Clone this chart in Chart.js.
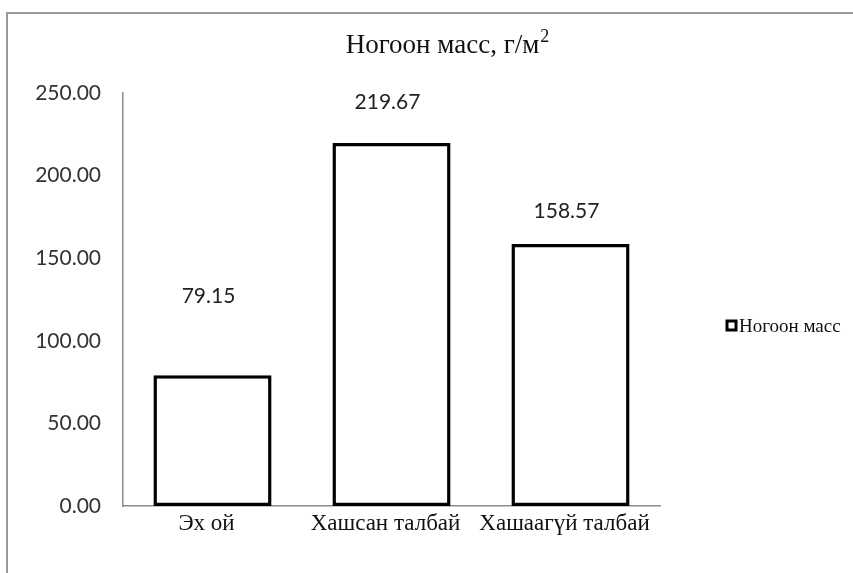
<!DOCTYPE html>
<html><head><meta charset="utf-8">
<script src="https://cdn.jsdelivr.net/npm/chart.js@4/dist/chart.umd.min.js"></script>
<style>
html,body{margin:0;padding:0;background:#fff;}
#wrap{position:absolute;left:0;top:0;width:853px;height:573px;}
#frame{position:absolute;left:6px;top:12px;width:900px;height:600px;border-left:2px solid #9a9a9a;border-top:2px solid #9a9a9a;}
canvas{position:absolute;left:0;top:0;}
</style></head><body>
<div id="wrap"><div id="frame"></div><canvas id="c" width="853" height="573"></canvas></div>
<script>
const categories = ["Эх ой", "Хашсан талбай", "Хашаагүй талбай"];
const values = [79.15, 219.67, 158.57];
const seriesName = "Ногоон масс";
const titleMain = "Ногоон масс, г/м";
const titleSup = "2";
const yTicks = [0, 50, 100, 150, 200, 250];

const labelLift = [79, 41, 33];

const extras = {
  id: 'extras',
  afterDatasetsDraw(chart) {
    const ctx = chart.ctx;
    const meta = chart.getDatasetMeta(0);
    ctx.save();
    ctx.fillStyle = '#222';
    ctx.font = '21px Lato, "Open Sans", sans-serif';
    ctx.textAlign = 'center';
    ctx.textBaseline = 'middle';
    meta.data.forEach((bar, i) => {
      ctx.fillText(values[i].toFixed(2), bar.x - 4, bar.y - labelLift[i]);
    });
    // title
    ctx.font = '27px "Liberation Serif", serif';
    ctx.fillStyle = '#111';
    ctx.textAlign = 'left';
    ctx.textBaseline = 'alphabetic';
    const w1 = ctx.measureText(titleMain).width;
    ctx.font = '18px "Liberation Serif", serif';
    const w2 = ctx.measureText(titleSup).width;
    const x0 = 447 - (w1 + w2) / 2;
    ctx.font = '27px "Liberation Serif", serif';
    ctx.fillText(titleMain, x0, 53);
    ctx.font = '18px "Liberation Serif", serif';
    ctx.fillText(titleSup, x0 + w1 + 1, 42);
    // legend
    ctx.lineWidth = 3;
    ctx.strokeStyle = '#000';
    ctx.fillStyle = '#fff';
    ctx.fillRect(727, 321, 9, 9);
    ctx.strokeRect(727, 321, 9, 9);
    ctx.fillStyle = '#111';
    ctx.font = '19px "Liberation Serif", serif';
    ctx.textAlign = 'left';
    ctx.textBaseline = 'middle';
    ctx.fillText(seriesName, 739, 327);
    ctx.restore();
  }
};

new Chart(document.getElementById('c'), {
  type: 'bar',
  data: {
    labels: categories,
    datasets: [{
      label: seriesName,
      data: values,
      backgroundColor: '#ffffff',
      borderColor: '#000000',
      borderWidth: 3.5,
      borderSkipped: false,
      categoryPercentage: 0.66,
      barPercentage: 1.0
    }]
  },
  options: {
    responsive: false,
    animation: false,
    layout: { padding: { left: 0, top: 93, right: 193, bottom: 0 } },
    plugins: { legend: { display: false }, tooltip: { enabled: false }, title: { display: false } },
    scales: {
      x: {
        grid: { display: false, drawTicks: false },
        border: { display: true, color: '#8c8c8c', width: 1.5 },
        ticks: { color: '#111', font: { family: '"Liberation Serif", serif', size: 23 }, padding: 4, labelOffset: -6 },
        afterFit(s) { s.height = 67; }
      },
      y: {
        min: 0, max: 250,
        afterBuildTicks(s) { s.ticks = yTicks.map(v => ({ value: v })); },
        grid: { display: false, drawTicks: false },
        border: { display: true, color: '#8c8c8c', width: 1.5 },
        ticks: { color: '#333', font: { family: 'Lato, "Open Sans", sans-serif', size: 21 }, padding: 22,
          callback: v => Number(v).toFixed(2) },
        afterFit(s) { s.width = 123; }
      }
    }
  },
  plugins: [extras]
});
</script>
</body></html>
